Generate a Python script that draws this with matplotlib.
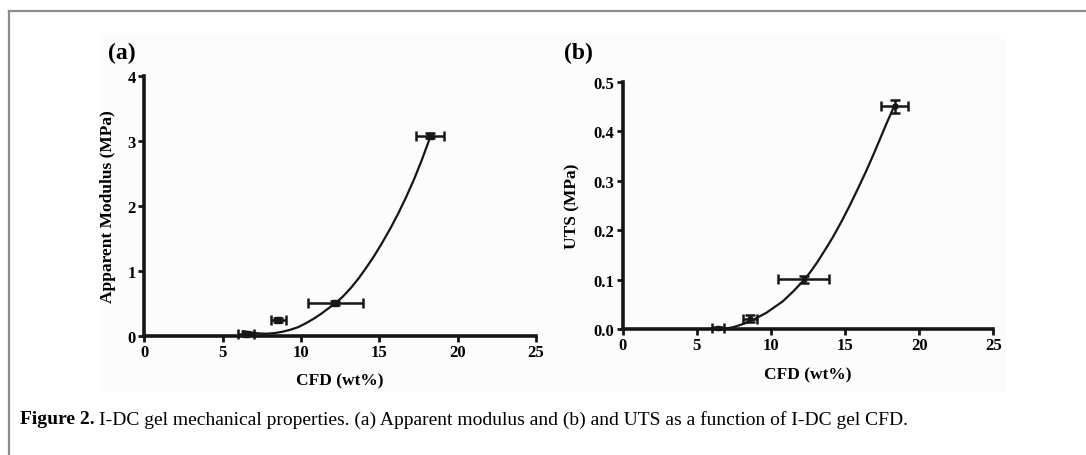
import matplotlib
matplotlib.use("Agg")
import matplotlib.pyplot as plt
from matplotlib.patches import Rectangle
from matplotlib.lines import Line2D

plt.rcParams['font.family'] = ['Liberation Serif', 'DejaVu Serif']

# (a) apparent modulus vs CFD
mod_x = [6.5, 8.55, 12.2, 18.25]
mod_y = [0.03, 0.24, 0.50, 3.08]
mod_xerr = [0.5, 0.49, 1.73, 0.9]
mod_yerr = [0.02, 0.03, 0.03, 0.04]
mod_fit_x = [6.3, 6.8, 7.3, 7.8, 8.3, 8.8, 9.3, 9.8, 10.3, 10.8, 11.3, 11.8, 12.2,
             12.7, 13.2, 13.7, 14.2, 14.7, 15.2, 15.7, 16.2, 16.7, 17.2, 17.7, 18.25]
mod_fit_y = [0.07, 0.05, 0.035, 0.03, 0.04, 0.06, 0.09, 0.13, 0.19, 0.26, 0.34, 0.43, 0.50,
             0.61, 0.74, 0.89, 1.06, 1.24, 1.44, 1.65, 1.88, 2.13, 2.40, 2.70, 3.06]

# (b) UTS vs CFD
uts_x = [6.42, 8.58, 12.2, 18.35]
uts_y = [0.002, 0.021, 0.101, 0.45]
uts_xerr = [0.42, 0.5, 1.72, 0.92]
uts_yerr = [0.002, 0.007, 0.007, 0.0135]
uts_fit_x = [6.83, 7.5, 8.2, 8.9, 9.7, 10.8, 11.5, 12.2, 12.65, 13.1, 13.65, 14.2,
             14.75, 15.3, 15.85, 16.4, 16.9, 17.35, 17.8, 18.3]
uts_fit_y = [0.0, 0.004, 0.011, 0.020, 0.033, 0.056, 0.076, 0.098, 0.115, 0.134, 0.160, 0.187,
             0.217, 0.249, 0.283, 0.318, 0.352, 0.384, 0.416, 0.45]

fig = plt.figure(figsize=(10.86, 4.56), dpi=100)

# outer frame and faint panel background
fig.patches.append(Rectangle((100 / 1086, 1 - 392 / 456), 905 / 1086, 357 / 456,
                             transform=fig.transFigure, color='#fcfcfc', zorder=-5))
fig.lines.append(Line2D([9 / 1086, 1], [1 - 12 / 456] * 2, transform=fig.transFigure,
                        color='#8c8c8c', lw=1.6))
fig.lines.append(Line2D([9 / 1086] * 2, [0, 1 - 12 / 456], transform=fig.transFigure,
                        color='#8c8c8c', lw=1.6))

ax1 = fig.add_axes([144.3 / 1086, 1 - 336.7 / 456, 391.7 / 1086, 259.6 / 456])
ax2 = fig.add_axes([622.7 / 1086, 1 - 330 / 456, 370.7 / 1086, 247.3 / 456])

ink = '#161616'


def style(ax):
    ax.patch.set_alpha(0)
    for s in ['top', 'right']:
        ax.spines[s].set_visible(False)
    for s in ['left', 'bottom']:
        ax.spines[s].set_linewidth(2.6)
        ax.spines[s].set_color(ink)
    ax.tick_params(direction='out', length=4, width=2, color=ink, pad=2,
                   labelsize=12)
    for lab in ax.get_xticklabels() + ax.get_yticklabels():
        lab.set_fontweight('bold')
    ax.set_xlim(0, 25)
    ax.set_xticks([0, 5, 10, 15, 20, 25])


ax1.plot(mod_fit_x, mod_fit_y, color=ink, lw=1.6, zorder=3)
ax1.errorbar(mod_x, mod_y, xerr=mod_xerr, yerr=mod_yerr, fmt='s', ms=5,
             color=ink, ecolor=ink, elinewidth=1.8, capsize=3.5, capthick=1.8,
             clip_on=False, zorder=4)
ax1.set_ylim(0, 4)
ax1.set_yticks([0, 1, 2, 3, 4])
style(ax1)
ax1.set_xlabel('CFD (wt%)', fontsize=12.5, fontweight='bold')
ax1.set_ylabel('Apparent Modulus (MPa)', fontsize=12.5, fontweight='bold')
ax1.xaxis.set_label_coords(0.5, -0.14)
ax1.yaxis.set_label_coords(-0.072, 0.5)

ax2.plot(uts_fit_x, uts_fit_y, color=ink, lw=1.6, zorder=3)
ax2.errorbar(uts_x, uts_y, xerr=uts_xerr, yerr=uts_yerr, fmt='s', ms=2.5,
             color=ink, ecolor=ink, elinewidth=1.8, capsize=3.5, capthick=1.8,
             clip_on=False, zorder=4)
ax2.set_ylim(0, 0.5)
ax2.set_yticks([0.0, 0.1, 0.2, 0.3, 0.4, 0.5])
ax2.set_yticklabels(['0.0', '0.1', '0.2', '0.3', '0.4', '0.5'])
style(ax2)
ax2.set_xlabel('CFD (wt%)', fontsize=12.5, fontweight='bold')
ax2.set_ylabel('UTS (MPa)', fontsize=12.5, fontweight='bold')
ax2.xaxis.set_label_coords(0.5, -0.15)
ax2.yaxis.set_label_coords(-0.115, 0.5)

fig.text(122 / 1086, 1 - 53 / 456, '(a)', fontsize=17, fontweight='bold',
         ha='center', va='center')
fig.text(578 / 1086, 1 - 53 / 456, '(b)', fontsize=17, fontweight='bold',
         ha='center', va='center')

# caption: bold lead followed by regular text
cap_y = 1 - 420 / 456
t1 = fig.text(20 / 1086, cap_y, 'Figure 2.', fontsize=14, fontweight='bold',
              va='center', ha='left')
fig.canvas.draw()
bb = t1.get_window_extent(fig.canvas.get_renderer())
fig.text((bb.x1 + 4) / 1086, cap_y,
         'I-DC gel mechanical properties. (a) Apparent modulus and (b) and UTS as a function of I-DC gel CFD.',
         fontsize=14, va='center', ha='left')

fig.savefig('out.png', dpi=100)
